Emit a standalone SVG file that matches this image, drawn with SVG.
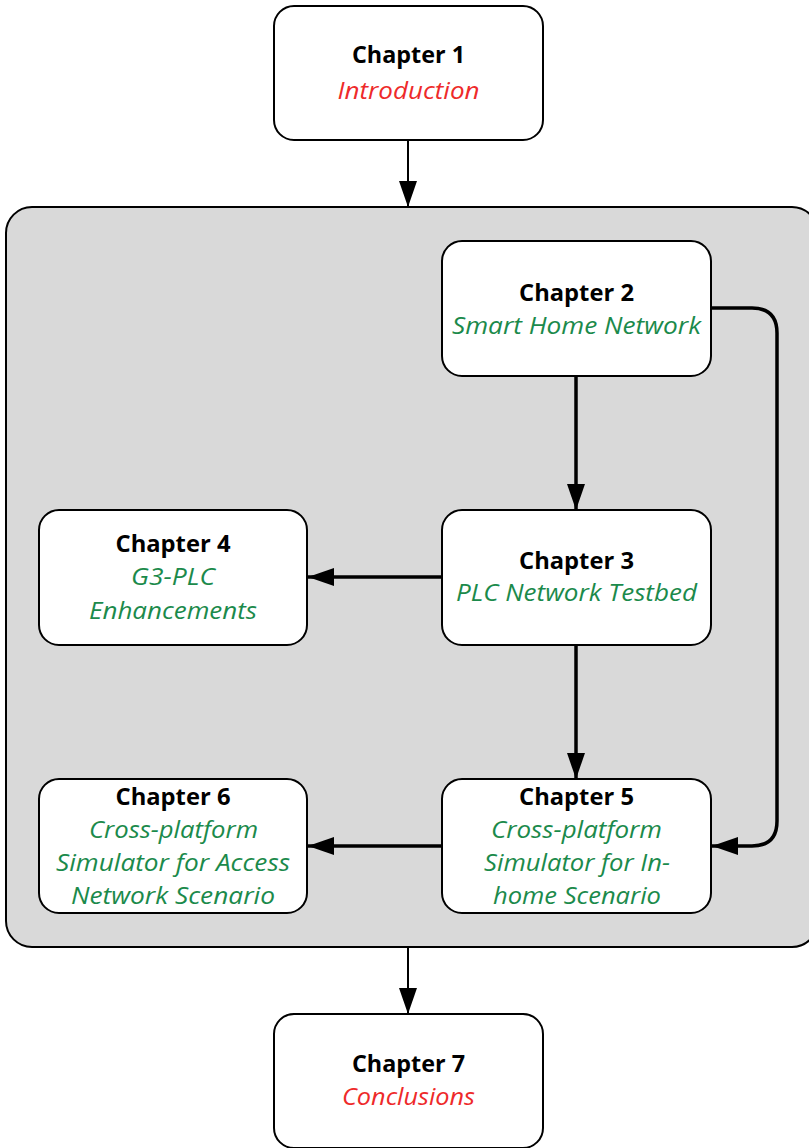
<svg xmlns="http://www.w3.org/2000/svg" width="809" height="1148" viewBox="0 0 809 1148">
  <defs>
    <marker id="head" viewBox="0 0 26 18" refX="26" refY="9" markerWidth="26" markerHeight="18" markerUnits="userSpaceOnUse" orient="auto">
      <path d="M0,0 L26,9 L0,18 Z" fill="#000"/>
    </marker>
    <style>
      .box { fill: #fff; stroke: #000; stroke-width: 2; }
      .group { fill: #d9d9d9; stroke: #000; stroke-width: 2; }
      .title { font-family: "Open Sans", "Noto Sans", sans-serif; font-weight: bold; font-size: 23px; fill: #000; text-anchor: middle; }
      .sub { font-family: "Open Sans", "Noto Sans", sans-serif; font-style: italic; font-size: 23px; text-anchor: middle; }
      .red { fill: #ee2a2a; }
      .green { fill: #1b8a4b; }
      .thin { stroke: #000; stroke-width: 2; fill: none; marker-end: url(#head); }
      .thick { stroke: #000; stroke-width: 3.5; fill: none; marker-end: url(#head); }
    </style>
  </defs>

  <!-- grouping panel for chapters 2–6 -->
  <rect id="panel" class="group" x="6" y="207" width="812" height="740" rx="26"/>

  <g id="connectors">
    <path class="thin" d="M408,140 L408,207"/>
    <path class="thick" d="M576,376 L576,510"/>
    <path class="thick" d="M442,577 L308,577"/>
    <path class="thick" d="M576,645 L576,779"/>
    <path class="thick" d="M442,846 L308,846"/>
    <path class="thick" d="M711,308 L752,308 Q777,308 777,333 L777,821 Q777,846 752,846 L712,846"/>
    <path class="thin" d="M408,947 L408,1014"/>
  </g>

  <g id="ch1">
    <rect class="box" x="274" y="6" width="269" height="134" rx="20"/>
    <text class="title" x="408.5" y="63" textLength="113" lengthAdjust="spacingAndGlyphs">Chapter 1</text>
    <text class="sub red" x="408.5" y="99" textLength="142" lengthAdjust="spacingAndGlyphs">Introduction</text>
  </g>

  <g id="ch2">
    <rect class="box" x="442" y="241" width="269" height="135" rx="20"/>
    <text class="title" x="576.5" y="301" textLength="115" lengthAdjust="spacingAndGlyphs">Chapter 2</text>
    <text class="sub green" x="576.5" y="334" textLength="249" lengthAdjust="spacingAndGlyphs">Smart Home Network</text>
  </g>

  <g id="ch3">
    <rect class="box" x="442" y="510" width="269" height="135" rx="20"/>
    <text class="title" x="576.5" y="569" textLength="115" lengthAdjust="spacingAndGlyphs">Chapter 3</text>
    <text class="sub green" x="576.5" y="601" textLength="241" lengthAdjust="spacingAndGlyphs">PLC Network Testbed</text>
  </g>

  <g id="ch4">
    <rect class="box" x="39" y="510" width="268" height="135" rx="20"/>
    <text class="title" x="173" y="552" textLength="115" lengthAdjust="spacingAndGlyphs">Chapter 4</text>
    <text class="sub green" x="173" y="585" textLength="84" lengthAdjust="spacingAndGlyphs">G3-PLC</text>
    <text class="sub green" x="173" y="619" textLength="168" lengthAdjust="spacingAndGlyphs">Enhancements</text>
  </g>

  <g id="ch5">
    <rect class="box" x="442" y="779" width="269" height="134" rx="20"/>
    <text class="title" x="576.5" y="805" textLength="115" lengthAdjust="spacingAndGlyphs">Chapter 5</text>
    <text class="sub green" x="576.5" y="838" textLength="171" lengthAdjust="spacingAndGlyphs">Cross-platform</text>
    <text class="sub green" x="577" y="871" textLength="186" lengthAdjust="spacingAndGlyphs">Simulator for In-</text>
    <text class="sub green" x="577" y="904" textLength="168" lengthAdjust="spacingAndGlyphs">home Scenario</text>
  </g>

  <g id="ch6">
    <rect class="box" x="39" y="779" width="268" height="134" rx="20"/>
    <text class="title" x="173" y="805" textLength="115" lengthAdjust="spacingAndGlyphs">Chapter 6</text>
    <text class="sub green" x="173.5" y="838" textLength="169" lengthAdjust="spacingAndGlyphs">Cross-platform</text>
    <text class="sub green" x="173" y="871" textLength="234" lengthAdjust="spacingAndGlyphs">Simulator for Access</text>
    <text class="sub green" x="173" y="904" textLength="204" lengthAdjust="spacingAndGlyphs">Network Scenario</text>
  </g>

  <g id="ch7">
    <rect class="box" x="274" y="1014" width="269" height="134" rx="20"/>
    <text class="title" x="408.5" y="1072" textLength="113" lengthAdjust="spacingAndGlyphs">Chapter 7</text>
    <text class="sub red" x="408.5" y="1105" textLength="133" lengthAdjust="spacingAndGlyphs">Conclusions</text>
  </g>
</svg>
